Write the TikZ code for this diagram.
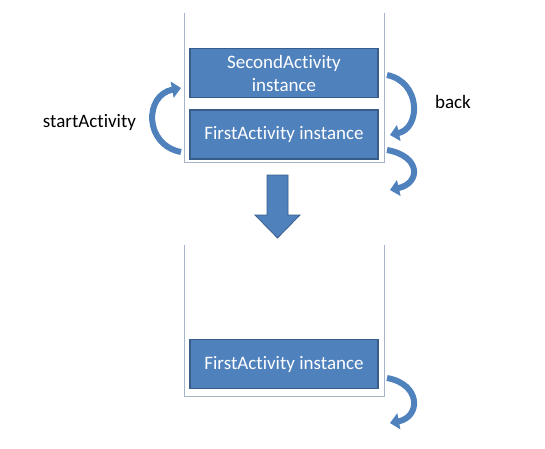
\documentclass[tikz,border=0pt]{standalone}
\usepackage{fontspec}
\setmainfont{Carlito}[Ligatures=NoCommon]
\usetikzlibrary{arrows.meta}
\definecolor{boxblue}{HTML}{4F81BD}
\definecolor{boxedge}{HTML}{385D8A}
\definecolor{stackgray}{HTML}{A6B4C8}
\begin{document}
\begin{tikzpicture}[x=1pt, y=-1pt,
    actbox/.style={rectangle, draw=boxedge, line width=1.3pt, fill=boxblue, text=white, minimum width=188pt, minimum height=49pt, inner sep=0pt, align=center, font=\fontsize{19}{23}\selectfont},
    stackline/.style={draw=stackgray, line width=0.8pt},
    curvy/.style={draw=boxblue, line width=6pt, -{Triangle[length=9pt, width=16pt]}},
    label/.style={font=\fontsize{19}{23}\selectfont}]
    \useasboundingbox (0,0) rectangle (545,448);
    \draw[stackline] (184,13) -- (184,162) -- (384,162) -- (384,13);
    \draw[stackline] (184,245) -- (184,396) -- (384,396) -- (384,245);
    \node[actbox] (second) at (284,73) {SecondActivity\\instance};
    \node[actbox] (first) at (284,134.5) {FirstActivity instance};
    \node[actbox] (firstb) at (284,364) {FirstActivity instance};
    \node[label] (start) at (89.5,122) {startActivity};
    \node[label] (back) at (453,102) {back};
    \coordinate (s0) at (181,152);
    \coordinate (s1) at (181,88);
    \coordinate (b0) at (387,75);
    \coordinate (b1) at (390,135);
    \coordinate (p0) at (387,150);
    \coordinate (p1) at (390,190);
    \coordinate (q0) at (387,378);
    \coordinate (q1) at (390,423);
    \draw[curvy] (s0) .. controls (144,145) and (144,95) .. (s1);
    \draw[curvy] (b0) .. controls (421,82) and (421,128) .. (b1);
    \draw[curvy] (p0) .. controls (421,156) and (421,183) .. (p1);
    \draw[curvy] (q0) .. controls (421,384) and (421,417) .. (q1);
    \filldraw[fill=boxblue, draw=boxedge, line width=0.8pt] (267,175) -- (288,175) -- (288,215) -- (300,215) -- (277.5,238) -- (255,215) -- (267,215) -- cycle;
\end{tikzpicture}
\end{document}
